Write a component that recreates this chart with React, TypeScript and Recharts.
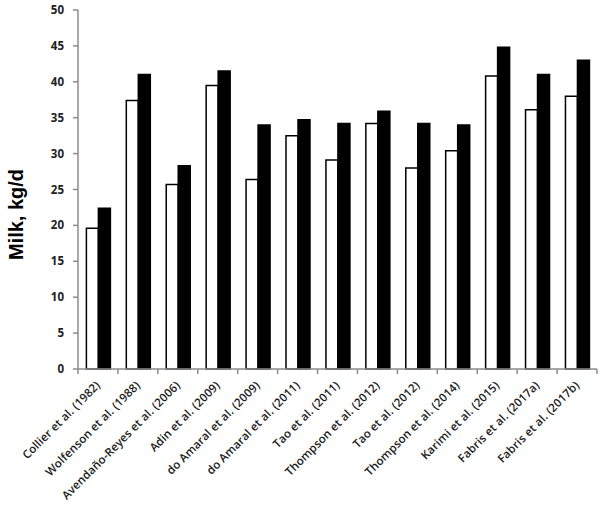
import { BarChart, Bar, XAxis, YAxis } from 'recharts'

const studies = [
  'Collier et al. (1982)',
  'Wolfenson et al. (1988)',
  'Avendaño-Reyes et al. (2006)',
  'Adin et al. (2009)',
  'do Amaral et al. (2009)',
  'do Amaral et al. (2011)',
  'Tao et al. (2011)',
  'Thompson et al. (2012)',
  'Tao et al. (2012)',
  'Thompson et al. (2014)',
  'Karimi et al. (2015)',
  'Fabris et al. (2017a)',
  'Fabris et al. (2017b)',
]
const heatStressed = [19.6, 37.4, 25.7, 39.5, 26.4, 32.5, 29.1, 34.2, 28.0, 30.4, 40.8, 36.1, 38.0]
const cooled = [22.4, 41.0, 28.3, 41.5, 34.0, 34.7, 34.2, 35.9, 34.2, 34.0, 44.8, 41.0, 43.0]
const yTicks = [0, 5, 10, 15, 20, 25, 30, 35, 40, 45, 50]

const data = studies.map((name, i) => ({ name, hs: heatStressed[i], cl: cooled[i] }))

const W = 600
const H = 511
const margin = { top: 10, right: 3, left: 0, bottom: 0 }
const yAxisWidth = 78
const step = (W - margin.left - margin.right - yAxisWidth) / studies.length

function StudyTick(props: any) {
  const { x, y, payload, index } = props
  const tx = x + 3
  const ty = y + 17
  return (
    <g>
      <line x1={x - step / 2} y1={y} x2={x - step / 2} y2={y + 5} stroke="#8c8c8c" strokeWidth={1.5} />
      {index === studies.length - 1 && (
        <line x1={x + step / 2} y1={y} x2={x + step / 2} y2={y + 5} stroke="#8c8c8c" strokeWidth={1.5} />
      )}
      <text
        x={tx}
        y={ty}
        textAnchor="end"
        transform={`rotate(-45, ${tx}, ${ty})`}
        fontSize={11.5}
        fontWeight={600}
        letterSpacing={0.1}
        fontFamily="Open Sans"
        fill="#1a1a1a"
      >
        {payload.value}
      </text>
    </g>
  )
}

export default function App() {
  return (
    <div style={{ position: 'absolute', left: 0, top: 0, background: '#fff' }}>
      <BarChart width={W} height={H} data={data} margin={margin} barCategoryGap="21%" barGap={0}>
        <XAxis
          dataKey="name"
          interval={0}
          height={H - 369 - margin.bottom}
          tick={<StudyTick />}
          tickLine={false}
          tickSize={0}
          tickMargin={0}
          axisLine={{ stroke: '#8c8c8c', strokeWidth: 1.5 }}
        />
        <YAxis
          width={yAxisWidth}
          domain={[0, 50]}
          ticks={yTicks}
          interval={0}
          tickSize={5}
          tickMargin={9}
          axisLine={{ stroke: '#8c8c8c', strokeWidth: 1.5 }}
          tickLine={{ stroke: '#8c8c8c', strokeWidth: 1.5 }}
          tick={{ fill: '#222', fontSize: 11.5, fontFamily: 'Open Sans', fontWeight: 700 }}
          label={{
            value: 'Milk, kg/d',
            angle: -90,
            position: 'insideLeft',
            dx: 11,
            dy: 25,
            style: { textAnchor: 'middle', fontFamily: 'Liberation Sans', fontWeight: 700, fontSize: 20, fill: '#000' },
          }}
        />
        <Bar dataKey="hs" fill="#fff" stroke="#000" strokeWidth={1.5} isAnimationActive={false} />
        <Bar dataKey="cl" fill="#000" stroke="#000" strokeWidth={1.5} isAnimationActive={false} />
      </BarChart>
    </div>
  )
}
